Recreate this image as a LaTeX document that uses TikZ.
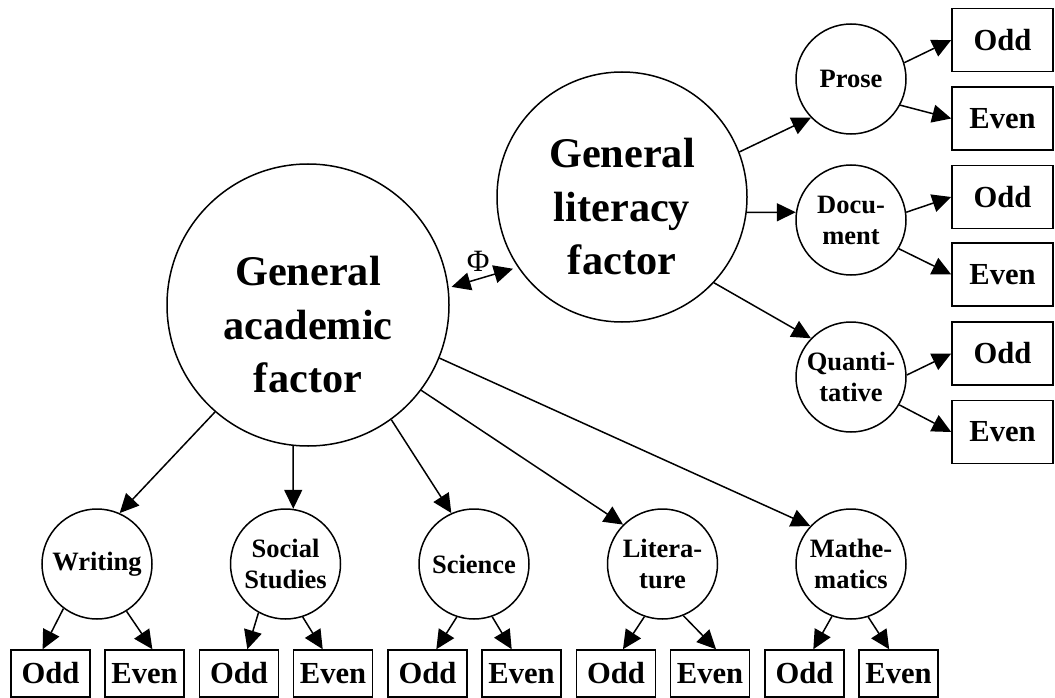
\documentclass[tikz,border=0pt]{standalone}
\usepackage{fontspec}
\setmainfont{Liberation Serif}
\usetikzlibrary{arrows.meta}

\begin{document}
\begin{tikzpicture}[
    x=1pt, y=-1pt,
    line width=1.5pt,
    >={Triangle[length=19pt, width=18pt]},
    factor/.style={draw, circle, inner sep=0pt},
    bigtxt/.style={align=center, font=\fontsize{42.3}{53.5}\selectfont\bfseries},
    sub/.style={draw, circle, inner sep=0pt, minimum size=110pt, align=center,
      font=\fontsize{26.5}{31}\selectfont\bfseries},
    item/.style={draw, rectangle, inner sep=0pt, font=\fontsize{30.6}{34}\selectfont\bfseries},
    low/.style={item, minimum width=79pt, minimum height=47pt},
    side/.style={item, minimum width=101pt, minimum height=63pt},
    arr/.style={->}
  ]
  \useasboundingbox (0,0) rectangle (1055,698);

  % The two general factors
  \node[factor, minimum size=282pt,
    label={[bigtxt, yshift=-20pt]center:General\\academic\\factor}] (ga) at (308,305) {};
  \node[factor, minimum size=250pt,
    label={[bigtxt, yshift=-10pt]center:General\\literacy\\factor}] (gl) at (622,197) {};

  % Correlation between the factors
  \draw[<->, shorten <=3pt, shorten >=5pt]
    (ga.7) -- node[above=5pt, xshift=-5pt, inner sep=0pt, font=\fontsize{31}{31}\selectfont]
    (phi) {Φ} (gl.214);

  % Subject factors (bottom row)
  \node[sub] (wr) at (97,564) {Writing};
  \node[sub] (ss) at (285.5,564) {Social\\Studies};
  \node[sub] (sc) at (474,564) {Science};
  \node[sub] (lt) at (662.5,564) {Litera-\\ture};
  \node[sub] (ma) at (851,564) {Mathe-\\matics};

  % Literacy factors (right column)
  \node[sub] (pr) at (851,79) {Prose};
  \node[sub] (dc) at (851,220) {Docu-\\ment};
  \node[sub] (qt) at (851,377) {Quanti-\\tative};

  % Half-test boxes, bottom row
  \node[low] (wr-o) at (50.5,673.5) {Odd};
  \node[low] (wr-e) at (144.5,673.5) {Even};
  \node[low] (ss-o) at (239,673.5) {Odd};
  \node[low] (ss-e) at (333,673.5) {Even};
  \node[low] (sc-o) at (427.5,673.5) {Odd};
  \node[low] (sc-e) at (521.5,673.5) {Even};
  \node[low] (lt-o) at (616,673.5) {Odd};
  \node[low] (lt-e) at (710,673.5) {Even};
  \node[low] (ma-o) at (804.5,673.5) {Odd};
  \node[low] (ma-e) at (898.5,673.5) {Even};

  % Half-test boxes, right column
  \node[side] (pr-o) at (1002.5,40) {Odd};
  \node[side] (pr-e) at (1002.5,118.5) {Even};
  \node[side] (dc-o) at (1002.5,197) {Odd};
  \node[side] (dc-e) at (1002.5,274.5) {Even};
  \node[side] (qt-o) at (1002.5,353.5) {Odd};
  \node[side] (qt-e) at (1002.5,432) {Even};

  % Loadings of the academic factor
  \draw[arr] (ga.229) -- (wr.66);
  \draw[arr] (ga.264) -- (ss.82);
  \draw[arr] (ga.306) -- (sc.114);
  \draw[arr] (ga.323) -- (lt.135);
  \draw[arr] (ga.338) -- (ma.137);

  % Loadings of the literacy factor
  \draw[arr] (gl.21) -- (pr.224);
  \draw[arr] (gl.353) -- (dc.172);
  \draw[arr] (gl.317) -- (qt.136);

  % Odd / even halves
  \draw[arr] (pr.17) -- (pr-o.west);
  \draw[arr] (pr.332) -- (pr-e.west);
  \draw[arr] (dc.8) -- (dc-o.west);
  \draw[arr] (dc.329) -- (dc-e.west);
  \draw[arr] (qt.2) -- (qt-o.west);
  \draw[arr] (qt.330) -- (qt-e.west);

  \draw[arr] (wr.233) -- (wr-o.108);
  \draw[arr] (wr.302) -- (wr-e.72);
  \draw[arr] (ss.241) -- (ss-o.71);
  \draw[arr] (ss.288) -- (ss-e.113);
  \draw[arr] (sc.252) -- (sc-o.70);
  \draw[arr] (sc.289) -- (sc-e.112);
  \draw[arr] (lt.251) -- (lt-o.74);
  \draw[arr] (lt.292) -- (lt-e.76);
  \draw[arr] (ma.250) -- (ma-o.70);
  \draw[arr] (ma.288) -- (ma-e.111);
\end{tikzpicture}
\end{document}
